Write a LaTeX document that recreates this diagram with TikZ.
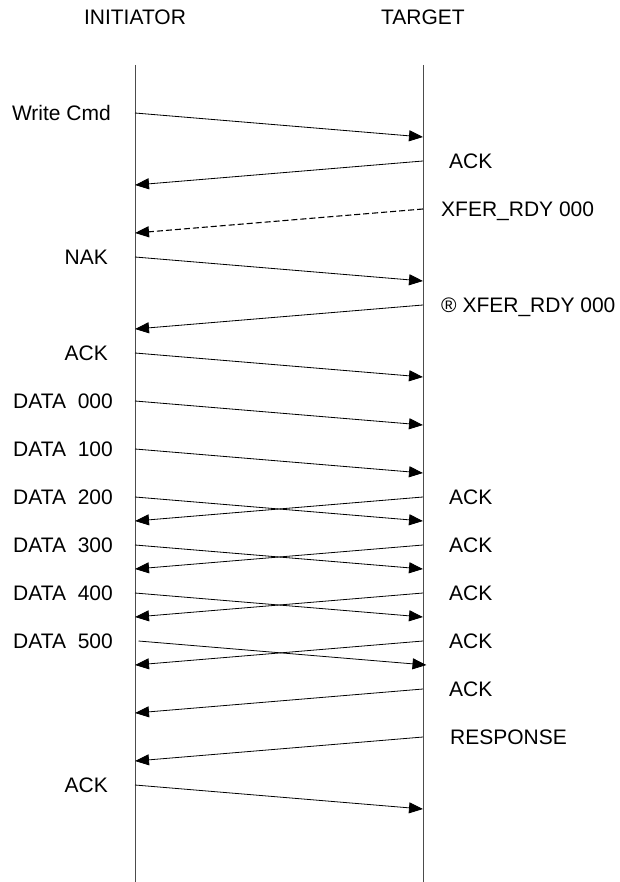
\documentclass[tikz,border=0pt]{standalone}
\usepackage{fontspec}
\setmainfont{Liberation Sans}
\usetikzlibrary{arrows.meta}

\tikzset{
    lifeline/.style={line width=0.9pt, black!70},
    msg/.style={-{Triangle[length=14pt,width=11pt]}, line width=0.8pt},
    lostmsg/.style={msg, line width=1.1pt, dash pattern=on 6pt off 3pt},
    lbl/.style={inner sep=0pt, text height=15pt, text depth=0pt, font=\fontsize{21}{25}\selectfont}
}

\begin{document}
\begin{tikzpicture}[x=1pt, y=-1pt]
    \useasboundingbox (0,0) rectangle (619,882);

    % Define the two parties and their lifelines
    \node[lbl] (init) at (135,17) {INITIATOR};
    \node[lbl] (targ) at (423,17) {TARGET};
    \coordinate (itop) at (135,65);
    \coordinate (ibot) at (135,882);
    \coordinate (ttop) at (423,65);
    \coordinate (tbot) at (423,882);
    \draw[lifeline] (itop) -- (ibot);
    \draw[lifeline] (ttop) -- (tbot);

    % Points on the lifelines, one every half row
    \foreach \k in {0,...,29} {
        \coordinate (I\k) at (135,113+24*\k);
        \coordinate (T\k) at (423,113+24*\k);
    }

    % Write command and the first transfer ready
    \draw[msg] (I0) -- (T1);
    \node[lbl, anchor=east] (wcmd) at (111,113) {Write Cmd};
    \draw[msg] (T2) -- (I3);
    \node[lbl, anchor=west] (ack1) at (449,161) {ACK};
    \draw[lostmsg] (T4) -- (I5);
    \node[lbl, anchor=west] (xrdy) at (441,209) {XFER\_RDY 000};

    % NAK and the resent transfer ready
    \draw[msg] (I6) -- (T7);
    \node[lbl, anchor=east] (nak) at (108,257) {NAK};
    \draw[msg] (T8) -- (I9);
    \node[lbl, anchor=west] (rxrdy) at (441,305) {® XFER\_RDY 000};
    \draw[msg] (I10) -- (T11);
    \node[lbl, anchor=east] (ack2) at (108,353) {ACK};

    % Data frames
    \draw[msg] (I12) -- (T13);
    \node[lbl, anchor=east] (d0) at (113,401) {DATA\ \ 000};
    \draw[msg] (I14) -- (T15);
    \node[lbl, anchor=east] (d1) at (113,449) {DATA\ \ 100};
    \draw[msg] (I16) -- (T17);
    \node[lbl, anchor=east] (d2) at (113,497) {DATA\ \ 200};
    \draw[msg] (I18) -- (T19);
    \node[lbl, anchor=east] (d3) at (113,545) {DATA\ \ 300};
    \draw[msg] (I20) -- (T21);
    \node[lbl, anchor=east] (d4) at (113,593) {DATA\ \ 400};
    \draw[msg] ([xshift=3.5pt]I22) -- ([xshift=3.5pt]T23);
    \node[lbl, anchor=east] (d5) at (113,641) {DATA\ \ 500};

    % Acknowledgements of the data frames
    \draw[msg] (T16) -- (I17);
    \node[lbl, anchor=west] (a2) at (449,497) {ACK};
    \draw[msg] (T18) -- (I19);
    \node[lbl, anchor=west] (a3) at (449,545) {ACK};
    \draw[msg] (T20) -- (I21);
    \node[lbl, anchor=west] (a4) at (449,593) {ACK};
    \draw[msg] (T22) -- (I23);
    \node[lbl, anchor=west] (a5) at (449,641) {ACK};
    \draw[msg] (T24) -- (I25);
    \node[lbl, anchor=west] (a6) at (449,689) {ACK};

    % Response and final ACK
    \draw[msg] (T26) -- (I27);
    \node[lbl, anchor=west] (resp) at (450,737) {RESPONSE};
    \draw[msg] (I28) -- (T29);
    \node[lbl, anchor=east] (ack3) at (108,785) {ACK};
\end{tikzpicture}
\end{document}
